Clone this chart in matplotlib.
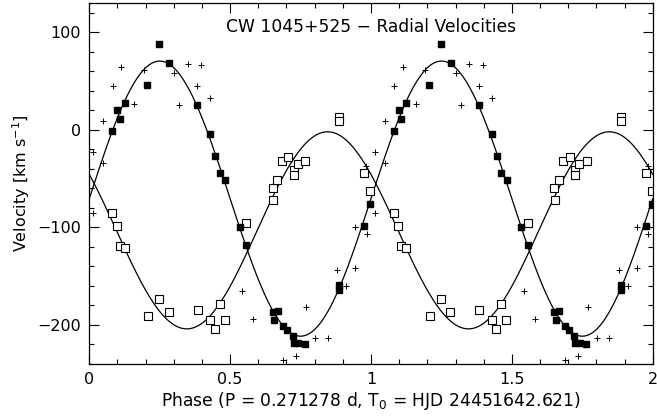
import numpy as np
import matplotlib
matplotlib.use("Agg")
import matplotlib.pyplot as plt
from matplotlib.ticker import MultipleLocator, FixedLocator

# ---- data (phase 0-1, repeated for phase 1-2) ----
prim_phase = [0.081, 0.098, 0.108, 0.126, 0.206, 0.248, 0.283, 0.383, 0.428, 0.447,
              0.463, 0.482, 0.534, 0.557, 0.651, 0.669, 0.656, 0.687, 0.703, 0.722,
              0.725, 0.742, 0.764, 0.887, 0.887, 0.976, 0.996]
prim_vel = [-1, 20, 11, 27, 46, 88, 69, 25, -4, -27,
            -44, -51, -100, -118, -187, -186, -195, -201, -205, -211,
            -218, -218, -220, -159, -164, -99, -76]

sec_phase = [0.080, 0.097, 0.108, 0.126, 0.209, 0.248, 0.282, 0.385, 0.428, 0.445,
             0.463, 0.481, 0.556, 0.653, 0.651, 0.668, 0.683, 0.707, 0.725, 0.725,
             0.740, 0.766, 0.887, 0.887, 0.976, 0.997]
sec_vel = [-85, -99, -119, -121, -191, -173, -187, -185, -195, -204,
           -178, -195, -95, -72, -60, -51, -32, -28, -41, -46,
           -35, -32, 13, 9, -44, -63]

plus_phase = [0.014, 0.050, 0.050, 0.083, 0.113, 0.160, 0.193, 0.301, 0.320, 0.349,
              0.398, 0.384, 0.430, 0.014, 0.542, 0.582, 0.687, 0.734, 0.769, 0.802,
              0.846, 0.879, 0.912, 0.944, 0.944, 0.985, 0.983]
plus_vel = [-23, -34, 9, 45, 64, 26, 61, 58, 25, 67,
            66, 45, 33, -85, -165, -194, -236, -232, -182, -213,
            -213, -144, -160, -142, -100, -107, -37]

# orbital fit parameters
gamma1, K1, phi1 = -70.5, 141.0, 0.0
gamma2, K2, phi2 = -103.0, 101.0, 0.096

title = "CW 1045+525 \u2212 Radial Velocities"
xlabel = "Phase (P = 0.271278 d, T$_0$ = HJD 24451642.621)"
ylabel = "Velocity [km s$^{-1}$]"
xticks = [0, 0.5, 1, 1.5, 2]
xticklabels = ["0", "0.5", "1", "1.5", "2"]
yticks = [-200, -100, 0, 100]

plt.rcParams['font.family'] = ['DejaVu Sans']
fig = plt.figure(figsize=(6.57, 4.17), dpi=100)
ax = fig.add_axes([89.3/657, 1-364/417, (652.7-89.3)/657, (364-3)/417])

def dup(p, v):
    p = np.asarray(p, float); v = np.asarray(v, float)
    return np.concatenate([p, p + 1]), np.concatenate([v, v])

ph = np.linspace(0, 2, 800)
ax.plot(ph, gamma1 + K1*np.sin(2*np.pi*(ph - phi1)), color='black', lw=0.9)
ax.plot(ph, gamma2 - K2*np.sin(2*np.pi*(ph - phi2)), color='black', lw=0.9)

x, y = dup(plus_phase, plus_vel)
ax.plot(x, y, '+', color='black', ms=5, mew=0.7, clip_on=True)
x, y = dup(sec_phase, sec_vel)
ax.plot(x, y, 's', mfc='white', mec='black', ms=5.3, mew=0.8, clip_on=True)
x, y = dup(prim_phase, prim_vel)
ax.plot(x, y, 's', color='black', ms=4.8, clip_on=True)

ax.set_xlim(0, 2)
ax.set_ylim(-240, 130)
ax.xaxis.set_major_locator(FixedLocator(xticks))
ax.set_xticklabels(xticklabels)
ax.xaxis.set_minor_locator(MultipleLocator(0.1))
ax.yaxis.set_major_locator(FixedLocator(yticks))
ax.yaxis.set_minor_locator(MultipleLocator(20))
ax.tick_params(which='both', direction='in', top=True, right=True, labelsize=11.5, width=0.8)
ax.tick_params(which='major', length=7, pad=6)
ax.tick_params(which='minor', length=3.5)
for s in ax.spines.values():
    s.set_linewidth(0.9)

ax.text(0.5, 1 - 24/361, title, transform=ax.transAxes, ha='center', va='center', fontsize=12.3)
ax.set_xlabel(xlabel, fontsize=12.3, labelpad=2)
ax.set_ylabel(ylabel, fontsize=11.5, labelpad=4)

fig.savefig("out.png", dpi=100)
